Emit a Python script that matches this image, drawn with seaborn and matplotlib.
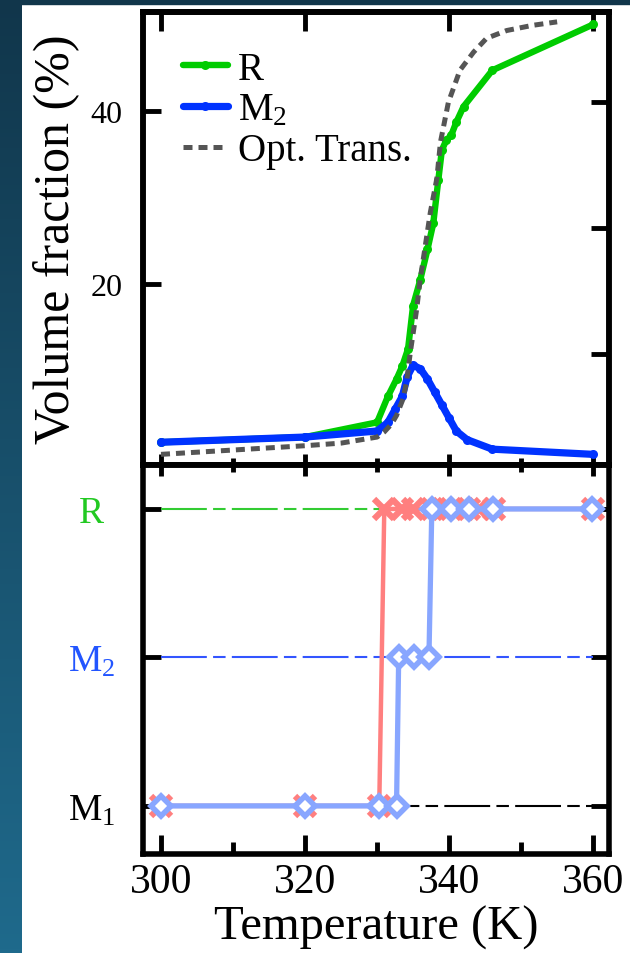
import numpy as np
import matplotlib
matplotlib.use("Agg")
import matplotlib.pyplot as plt
import seaborn as sns
from matplotlib.colors import LinearSegmentedColormap
from matplotlib.patches import Rectangle
from matplotlib.ticker import MultipleLocator, FixedLocator

# ---------------- data ----------------
# volume fractions (%) versus temperature (K)
r_temp = [300, 320, 330, 331.5, 332.7, 333.5, 334.3, 335.0, 336.0, 337.0, 337.8,
          338.5, 339.0, 339.6, 340.3, 341.0, 342.0, 346.0, 360.0]
r_frac = [1.7, 2.3, 4.0, 7.0, 9.0, 10.5, 12.5, 17.5, 20.5, 24.0, 27.0,
          32.0, 35.5, 36.6, 37.2, 38.7, 40.5, 44.7, 50.0]

m2_temp = [300, 320, 330, 331.5, 332.5, 333.5, 334.2, 335.0, 336.0, 337.0,
           338.0, 339.0, 340.0, 341.0, 342.5, 346.0, 360.0]
m2_frac = [1.7, 2.3, 3.0, 4.0, 5.5, 7.0, 9.3, 10.6, 10.2, 9.0,
           7.5, 6.0, 4.5, 3.0, 2.0, 0.9, 0.3]

opt_temp = [300, 310, 320, 325, 330, 331, 332, 332.7, 333.6, 334.1, 334.6,
            335.5, 336.0, 337.4, 338.3, 338.8, 339.9, 341.5, 343.4, 345.2,
            348.0, 351.6, 355.0]
opt_frac = [0.3, 0.8, 1.3, 1.6, 2.3, 2.9, 3.8, 4.8, 6.7, 8.7, 12.0,
            17.1, 20.6, 28.3, 32.2, 36.4, 41.0, 44.7, 46.8, 48.4,
            49.3, 49.9, 50.3]

# phase sequence
phases = ["M1", "M2", "R"]
phase_labels = ["M$_1$", "M$_2$", "R"]
phase_colors = ["black", "#2255ff", "#22c922"]
level_line_colors = ["black", "#3355ff", "#33cc33"]

cross_temp = [300, 320, 330.3, 331.0, 333.5, 335.0, 337.6, 339.1, 340.3,
              341.5, 342.8, 344.1, 346.2, 360.0]
cross_phase = ["M1", "M1", "M1", "R", "R", "R", "R", "R", "R",
               "R", "R", "R", "R", "R"]

diamond_temp = [300, 320, 330.2, 332.7, 333.0, 335.1, 337.2, 337.6, 340.3,
                342.8, 346.1, 359.9]
diamond_phase = ["M1", "M1", "M1", "M1", "M2", "M2", "M2", "R", "R",
                 "R", "R", "R"]

x_major = 20
x_minor = 10
frac_ticks = [20, 40]
right_ticks = [11.9, 26.5, 41.0]

# ---------------- style ----------------
sns.set_theme(style="ticks")
plt.rcParams["font.family"] = ["Liberation Serif", "DejaVu Serif"]
plt.rcParams["mathtext.fontset"] = "custom"
plt.rcParams["mathtext.rm"] = "Liberation Serif"
plt.rcParams["mathtext.it"] = "Liberation Serif:italic"
plt.rcParams["mathtext.bf"] = "Liberation Serif:bold"
for key in ["axes.edgecolor", "xtick.color", "ytick.color", "text.color",
            "axes.labelcolor"]:
    plt.rcParams[key] = "black"

W_PX, H_PX = 630, 954
fig = plt.figure(figsize=(W_PX / 100, H_PX / 100), dpi=100)
fig.patch.set_facecolor("white")

# dark frame along the left and top edges
strip = fig.add_axes([0, 0, 22 / W_PX, 1])
grad = np.linspace(0, 1, 256)[:, None]
edge_cmap = LinearSegmentedColormap.from_list("edge", ["#11364b", "#1f6a8c"])
strip.imshow(grad, aspect="auto", cmap=edge_cmap, extent=[0, 1, 0, 1], origin="upper")
strip.axis("off")
fig.add_artist(Rectangle((0, 1 - 5 / H_PX), 1, 5 / H_PX, transform=fig.transFigure,
                         color="#11364b", zorder=5))

left = 143 / W_PX
width = (609 - 143) / W_PX
top = 1 - 13 / H_PX
mid = 1 - 466 / H_PX
bottom = 1 - 855 / H_PX

xlim = (297.5, 362.2)
spine_w = 4.0
tick_w = 3.5

# ---------------- upper panel: volume fractions ----------------
ax1 = fig.add_axes([left, mid, width, top - mid])
sns.lineplot(x=r_temp, y=r_frac, ax=ax1, color="#00cc00", lw=4.6, marker="o",
             markersize=6.5, markeredgewidth=0, label="R", estimator=None, sort=False)
sns.lineplot(x=m2_temp, y=m2_frac, ax=ax1, color="#0033ff", lw=5.2, marker="o",
             markersize=6.5, markeredgewidth=0, label="M$_2$", estimator=None, sort=False)
sns.lineplot(x=opt_temp, y=opt_frac, ax=ax1, color="#555555", lw=3.6,
             ls=(0, (1.8, 1.2)), label="Opt. Trans.", estimator=None, sort=False)

ax1.set_xlim(*xlim)
ax1.set_ylim(-0.93, 51.44)
ax1.xaxis.set_major_locator(MultipleLocator(x_major))
ax1.xaxis.set_minor_locator(MultipleLocator(x_minor))
ax1.tick_params(axis="x", which="both", direction="in", bottom=True, top=False,
                labelbottom=False, width=tick_w)
ax1.tick_params(axis="x", which="major", length=8)
ax1.tick_params(axis="x", which="minor", length=5)
ax1.set_yticks(frac_ticks)
ax1.tick_params(axis="y", which="both", direction="in", left=True, right=False,
                length=13, width=tick_w, labelsize=23, pad=15)
ax1.set_ylabel("Volume fraction (%)", fontsize=36)
ax1.yaxis.set_label_coords(-0.135, 0.5)
for s in ax1.spines.values():
    s.set_linewidth(spine_w)

sec1 = ax1.secondary_xaxis("top")
sec1.xaxis.set_major_locator(MultipleLocator(x_major))
sec1.tick_params(direction="in", length=14, width=tick_w, labeltop=False)
sec1.spines["top"].set_linewidth(spine_w)

tw = ax1.twinx()
tw.set_ylim(ax1.get_ylim())
tw.yaxis.set_major_locator(FixedLocator(right_ticks))
tw.tick_params(axis="y", direction="in", length=13, width=tick_w, labelright=False)
tw.grid(False)
for s in tw.spines.values():
    s.set_linewidth(spine_w)

ax1.legend(loc="upper left", bbox_to_anchor=(0.086, 0.915), frameon=False,
           fontsize=28, handlelength=1.15, handletextpad=0.25, labelspacing=0.1,
           borderpad=0, borderaxespad=0)

# ---------------- lower panel: phase sequence ----------------
ax2 = fig.add_axes([left, bottom, width, mid - bottom])
level_of = {p: i for i, p in enumerate(phases)}
cross_level = [level_of[p] for p in cross_phase]
diamond_level = [level_of[p] for p in diamond_phase]

for i, c in enumerate(level_line_colors):
    ax2.hlines(i, 300, 360, colors=c, lw=1.5, linestyles=[(0, (22, 3, 6, 3))], zorder=1)

sns.lineplot(x=cross_temp, y=cross_level, ax=ax2, color="#ff7f7f", lw=3.2,
             marker="x", markersize=15, markeredgewidth=4.5,
             markeredgecolor="#ff7f7f", estimator=None, sort=False, zorder=2)
sns.lineplot(x=diamond_temp, y=diamond_level, ax=ax2, color="#88a6ff", lw=3.8,
             marker="D", markersize=10, markerfacecolor="white",
             markeredgecolor="#88a6ff", markeredgewidth=4.0, estimator=None,
             sort=False, zorder=3)

ax2.set_xlim(*xlim)
ax2.set_ylim(-0.324, 2.296)
ax2.xaxis.set_major_locator(MultipleLocator(x_major))
ax2.xaxis.set_minor_locator(MultipleLocator(x_minor))
ax2.tick_params(axis="x", which="both", direction="in", bottom=True, top=False,
                width=tick_w, labelsize=30, pad=6)
ax2.tick_params(axis="x", which="major", length=14)
ax2.tick_params(axis="x", which="minor", length=8.5)
ax2.set_yticks(range(len(phases)))
ax2.set_yticklabels(phase_labels)
ax2.tick_params(axis="y", direction="in", left=True, right=True, length=13,
                width=tick_w, labelsize=27, pad=37)
for lab, c in zip(ax2.get_yticklabels(), phase_colors):
    lab.set_color(c)
    lab.set_horizontalalignment("center")
ax2.set_xlabel("Temperature (K)", fontsize=35)
ax2.xaxis.set_label_coords(0.5, -0.13)
for s in ax2.spines.values():
    s.set_linewidth(spine_w)

sec2 = ax2.secondary_xaxis("top")
sec2.xaxis.set_major_locator(MultipleLocator(x_major))
sec2.xaxis.set_minor_locator(MultipleLocator(x_minor))
sec2.tick_params(which="both", direction="in", width=tick_w, labeltop=False)
sec2.tick_params(which="major", length=8)
sec2.tick_params(which="minor", length=5)
sec2.spines["top"].set_linewidth(spine_w)

fig.savefig("out.png", dpi=100)
